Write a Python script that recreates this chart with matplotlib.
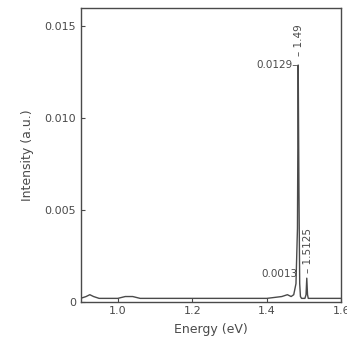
import matplotlib
matplotlib.use("Agg")
import matplotlib.pyplot as plt
import numpy as np

energy = [0.90, 0.915, 0.925, 0.935, 0.95, 0.97, 1.00, 1.02, 1.04, 1.06, 1.10, 1.20, 1.30,
          1.40, 1.44, 1.455, 1.465, 1.472, 1.478, 1.482, 1.484, 1.486, 1.488, 1.490,
          1.493, 1.497, 1.502, 1.505, 1.507, 1.509, 1.511, 1.515, 1.53, 1.56, 1.60]
intensity = [0.0002, 0.0003, 0.0004, 0.0003, 0.0002, 0.0002, 0.0002, 0.0003, 0.0003, 0.0002,
             0.0002, 0.0002, 0.0002, 0.0002, 0.0003, 0.0004, 0.0003, 0.0004, 0.0010, 0.0040,
             0.0129, 0.0060, 0.0010, 0.0003, 0.0002, 0.0002, 0.0002, 0.0004, 0.0013, 0.0004,
             0.0002, 0.0002, 0.0002, 0.0002, 0.0002]

xticks = [1.0, 1.2, 1.4, 1.6]
xticklabels = ["1.0", "1.2", "1.4", "1.6"]
yticks = [0, 0.005, 0.010, 0.015]
yticklabels = ["0", "0.005", "0.010", "0.015"]

col = "#4a4a4a"
fig = plt.figure(figsize=(3.47, 3.5), dpi=100)
ax = fig.add_axes([0.232, 0.137, 0.752, 0.84])
ax.plot(energy, intensity, color=col, lw=1.0)
ax.set_xlim(0.9, 1.6)
ax.set_ylim(0, 0.016)
ax.set_xticks(xticks)
ax.set_xticklabels(xticklabels)
ax.set_yticks(yticks)
ax.set_yticklabels(yticklabels)
ax.tick_params(direction="in", length=3, width=0.8, colors=col, labelsize=8, pad=3)
for s in ax.spines.values():
    s.set_color(col)
    s.set_linewidth(1.0)
ax.set_xlabel("Energy (eV)", fontsize=9, color=col, labelpad=5)
ax.set_ylabel("Intensity (a.u.)", fontsize=9, color=col, labelpad=8)

ax.text(1.483, 0.0129, "0.0129–", fontsize=7.5, color=col, ha="right", va="center")
ax.text(1.486, 0.0134, "– 1.49", fontsize=7.5, color=col, ha="center", va="bottom", rotation=90)
ax.text(1.482, 0.0015, "0.0013", fontsize=7.5, color=col, ha="right", va="center")
ax.text(1.509, 0.0016, "– 1.5125", fontsize=7.5, color=col, ha="center", va="bottom", rotation=90)

fig.savefig("out.png", dpi=100)
